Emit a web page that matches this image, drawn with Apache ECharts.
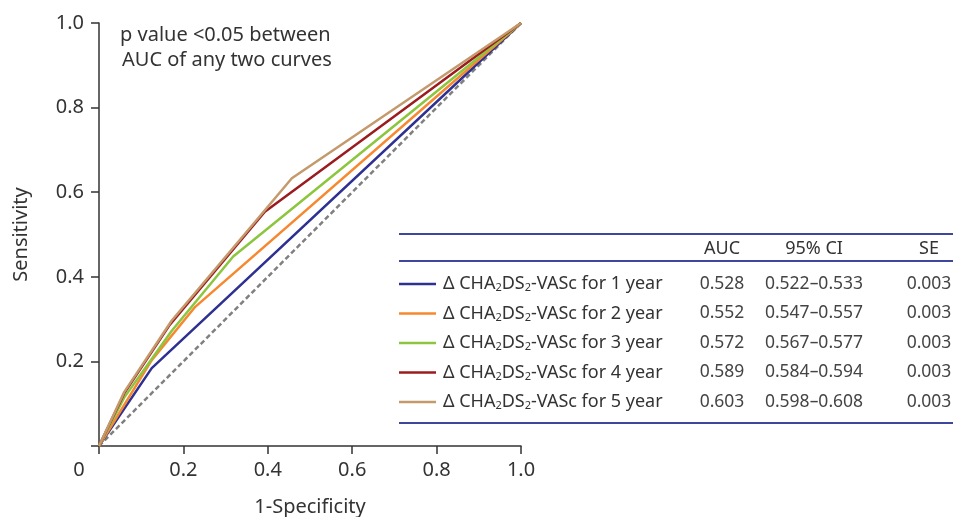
<!DOCTYPE html>
<html><head><meta charset="utf-8">
<script src="https://cdn.jsdelivr.net/npm/echarts@6/dist/echarts.min.js"></script>
<style>html,body{margin:0;padding:0;background:#fff}#c{width:954px;height:517px}</style>
</head><body><div id="c"></div>
<script>
// ROC curve points [1-Specificity, Sensitivity]
const year1 = [[0,0],[0.125,0.184],[1,1]];
const year2 = [[0,0],[0.125,0.203],[0.228,0.329],[1,1]];
const year3 = [[0,0],[0.06,0.115],[0.172,0.272],[0.318,0.448],[1,1]];
const year4 = [[0,0],[0.06,0.125],[0.168,0.287],[0.393,0.554],[1,1]];
const year5 = [[0,0],[0.06,0.128],[0.172,0.296],[0.457,0.633],[1,1]];
const reference = [[0,0],[1,1]];
const seriesNames = ['1 year','2 year','3 year','4 year','5 year'];
const colors = ['#2e3192','#f7882f','#8cc63f','#9b1b1e','#c49a6c'];
const aucValues = ['0.528','0.552','0.572','0.589','0.603'];
const ciValues = ['0.522\u20130.533','0.547\u20130.557','0.567\u20130.577','0.584\u20130.594','0.598\u20130.608'];
const seValues = ['0.003','0.003','0.003','0.003','0.003'];
const tableHeaders = ['AUC','95% CI','SE'];
const xTicks = [0,0.2,0.4,0.6,0.8,1.0];
const yTicks = [0.2,0.4,0.6,0.8,1.0];

const FONT = 'Noto Sans';
const TXT = '#333';
const curves = [year1,year2,year3,year4,year5];

const chart = echarts.init(document.getElementById('c'), null, {renderer:'canvas'});

const series = [{
  type:'line', data:reference, showSymbol:false, silent:true,
  lineStyle:{color:'#808080', width:2.5, type:[5,3]}, z:1
}];
curves.forEach((d,i)=>series.push({
  type:'line', name:seriesNames[i], data:d, showSymbol:false, silent:true,
  lineStyle:{color:colors[i], width:2.5}, z:2+i
}));

// table graphics
const graphic = [];
const lineColor = '#3d479e';
const tx0 = 399, tx1 = 953;
[234, 261, 423].forEach(y=>graphic.push({type:'line', shape:{x1:tx0,y1:y,x2:tx1,y2:y}, style:{stroke:lineColor, lineWidth:2}, silent:true}));
const colX = [722, 814, 929];
tableHeaders.forEach((h,j)=>graphic.push({type:'text', x:colX[j], y:249, style:{text:h, font:'18px "'+FONT+'"', fill:TXT, align:'center', verticalAlign:'middle'}}));
seriesNames.forEach((n,i)=>{
  const y = 284 + i*29.5;
  graphic.push({type:'line', shape:{x1:399,y1:y,x2:436,y2:y}, style:{stroke:colors[i], lineWidth:2.5}, silent:true});
  graphic.push({type:'text', x:443, y:y, style:{
    text:'{n|\u0394 CHA}{s|2}{n|DS}{s|2}{n|-VASc for '+n+'}',
    rich:{n:{fontSize:18, fontFamily:FONT, fill:TXT, lineHeight:22}, s:{fontSize:11, fontFamily:FONT, fill:TXT, lineHeight:22, padding:[8,0,0,0]}},
    align:'left', verticalAlign:'middle'}});
  [aucValues[i], ciValues[i], seValues[i]].forEach((v,j)=>graphic.push({type:'text', x:colX[j], y:y, style:{text:v, font:'17.5px "'+FONT+'"', fill:'#444', align:'center', verticalAlign:'middle'}}));
});
graphic.push({type:'text', left:120, top:25, style:{text:'p value <0.05 between', font:'20px "'+FONT+'"', fill:TXT}});
graphic.push({type:'text', left:122, top:50, style:{text:'AUC of any two curves', font:'20px "'+FONT+'"', fill:TXT}});

chart.setOption({
  animation:false,
  backgroundColor:'#fff',
  grid:{left:99, right:433, top:23, bottom:71, containLabel:false, outerBoundsMode:'none'},
  xAxis:{type:'value', min:0, max:1, interval:0.2,
    name:'1-Specificity', nameLocation:'middle', nameGap:51,
    nameTextStyle:{fontSize:20, fontFamily:FONT, color:TXT},
    axisLine:{show:true, lineStyle:{color:'#333', width:1.5}},
    axisTick:{show:true, length:8, lineStyle:{color:'#333', width:1.5}},
    splitLine:{show:false},
    axisLabel:{fontSize:20, fontFamily:FONT, color:TXT, margin:14,
      formatter:v=> v===0 ? '{z|0}' : v.toFixed(1),
      rich:{z:{fontSize:20, fontFamily:FONT, color:TXT, padding:[0,40,0,0]}}}
  },
  yAxis:{type:'value', min:0, max:1, interval:0.2,
    name:'Sensitivity', nameLocation:'middle', nameGap:68, nameRotate:90,
    nameTextStyle:{fontSize:20, fontFamily:FONT, color:TXT},
    axisLine:{show:true, lineStyle:{color:'#333', width:1.5}},
    axisTick:{show:true, length:8, lineStyle:{color:'#333', width:1.5}},
    splitLine:{show:false},
    axisLabel:{fontSize:20, fontFamily:FONT, color:TXT, margin:15,
      formatter:v=> v===0 ? '' : v.toFixed(1)}
  },
  series:series,
  graphic:graphic
});
</script></body></html>
